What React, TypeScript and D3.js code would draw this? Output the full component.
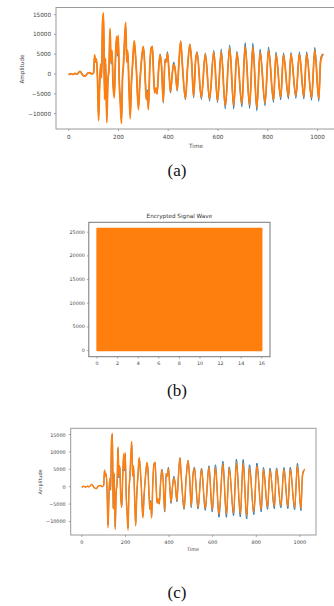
import React from "react";
import * as d3 from "d3";

// ---- Data ----
const signalTime = [
  0, 8, 16, 25, 33, 45, 57, 66, 76, 85, 93, 100,
  104, 108, 112, 116, 120, 124, 128, 132, 136, 140, 144, 148, 153, 157, 162, 166,
  170, 174, 178, 183, 187, 192, 196, 199, 203, 207, 212, 216, 220, 225, 229, 233,
  237, 242, 247, 252, 257, 263, 267, 272, 280, 286, 292, 299, 304, 308, 312, 316,
  320, 326, 331, 336, 341, 345, 350, 355, 361, 367, 373, 380, 387, 392, 397, 403,
  409, 416, 422, 428, 436, 443, 450, 456, 469, 478, 487, 494, 502, 510, 516,
  533, 549, 566, 583, 598, 613, 629, 647, 663, 676, 696, 709, 727, 740, 756,
  769, 789, 803, 823, 833, 852, 863, 883, 893, 913, 927, 945, 956, 976, 989,
  1005, 1012, 1018, 1023,
];

const originalSignal = [
  -200, 100, -100, 150, -50, 650, -300, -550, 200, 350, 0, 300,
  4600, 3200, 3500, -1500, -11000, -3500, 2000, -800, 12500, 15000, -6000, 3500, -11600, -2500, 1500, 11000,
  2500, 5500, -2000, -5500, 1800, 9000, 4500, 9300, -1500, -6500, -11800, -1500, 2000, 9000, 12000, 3500,
  5500, -2500, -10500, -2500, 2500, 8000, 5800, 1000, -8500, -2000, 3000, 6800, 4200, -2000, -6500, -4000,
  -8500, 2000, 6500, 7000, 0, -4500, -4000, -5000, 1000, 5000, 2000, -7300, 3800, 3200, 5600, 500,
  -4800, 0, 3000, 1000, -4300, 3000, 8300, 3000, -6500, 2000, 7500, 3000, -6000, 3500, 5600,
  -6400, 5300, -6800, 6000, -7200, 6300, -8800, 7300, -8800, 5700, -8300, 7900, -8700, 7800, -9300,
  6300, -8000, 6800, -7200, 5500, -6500, 5300, -6300, 5400, -6100, 5500, -6300, 5600, -6600, 6700,
  -6900, 3500, 4800, 5000,
];

const decryptedSignal = [
  -200, 100, -100, 150, -50, 650, -300, -550, 200, 350, 0, 300,
  4800, 3000, 3800, -2000, -11800, -3000, 2500, -1000, 13200, 15400, -6500, 4000, -12300, -2000, 2000, 11500,
  3000, 6000, -2500, -6000, 2000, 9500, 5000, 9800, -2000, -7000, -12500, -1000, 2500, 9500, 13000, 3000,
  6000, -3000, -11300, -2000, 3000, 8400, 6000, 1000, -9000, -2000, 3000, 7000, 4000, -2000, -6500, -4500,
  -9000, 2000, 6500, 7000, 0, -4800, -3500, -5000, 1000, 4800, 2000, -7000, 3500, 3000, 5200, 500,
  -4500, 0, 2500, 1000, -4000, 3000, 8300, 3000, -6200, 2000, 7500, 3000, -5600, 3500, 5300,
  -6000, 5000, -6300, 5600, -6700, 5600, -8000, 6500, -8000, 5300, -7600, 7000, -7900, 6800, -8500,
  5500, -7300, 6000, -6600, 5000, -5900, 4800, -5700, 5000, -5500, 5000, -5700, 5100, -6000, 6000,
  -6300, 3000, 4500, 5000,
];

const timeTicks = [0, 200, 400, 600, 800, 1000];
const amplitudeTicks = [-10000, -5000, 0, 5000, 10000, 15000];

const encryptedTime = [0, 16];
const encryptedLow = [0, 0];
const encryptedHigh = [25800, 25800];
const encryptedXTicks = [0, 2, 4, 6, 8, 10, 12, 14, 16];
const encryptedYTicks = [0, 5000, 10000, 15000, 20000, 25000];

const BLUE = "#1f77b4";
const ORANGE = "#ff7f0e";
const FONT = "DejaVu Sans, sans-serif";
const SERIF = "Liberation Serif, Times New Roman, serif";

const fmt = (v: number) => (v < 0 ? "\u2212" + Math.abs(v) : String(v));

function padDomain(lo: number, hi: number): [number, number] {
  const p = (hi - lo) * 0.05;
  return [lo - p, hi + p];
}

type SignalProps = {
  id: string;
  left: number;
  right: number;
  top: number;
  bottom: number;
  fs: number;
  lwBlue: number;
  lwOrange: number;
  yLabelEnd: number;
  xTickY: number;
  xLabel: [number, number];
  yLabel: [number, number];
};

function SignalPanel(p: SignalProps) {
  const xDom = padDomain(d3.min(signalTime)!, d3.max(signalTime)!);
  const yDom = padDomain(
    Math.min(d3.min(originalSignal)!, d3.min(decryptedSignal)!),
    Math.max(d3.max(originalSignal)!, d3.max(decryptedSignal)!)
  );
  const x = d3.scaleLinear().domain(xDom).range([p.left, p.right]);
  const y = d3.scaleLinear().domain(yDom).range([p.bottom, p.top]);
  const line = (vals: number[]) =>
    d3
      .line<number>()
      .x((_, i) => x(signalTime[i]))
      .y((d) => y(d))
      .curve(d3.curveMonotoneX)(vals) || "";
  return (
    <g>
      <defs>
        <clipPath id={p.id}>
          <rect x={p.left} y={p.top} width={p.right - p.left} height={p.bottom - p.top} />
        </clipPath>
      </defs>
      <g clipPath={`url(#${p.id})`}>
        <path d={line(originalSignal)} fill="none" stroke={BLUE} strokeWidth={p.lwBlue} strokeLinejoin="round" />
        <path d={line(decryptedSignal)} fill="none" stroke={ORANGE} strokeWidth={p.lwOrange} strokeLinejoin="round" />
      </g>
      <rect x={p.left} y={p.top} width={p.right - p.left} height={p.bottom - p.top} fill="none" stroke="#9a9a9a" strokeWidth={1} />
      {amplitudeTicks.map((t) => (
        <g key={"y" + t}>
          <line x1={p.left - 2} x2={p.left} y1={y(t)} y2={y(t)} stroke="#777" strokeWidth={0.6} />
          <text x={p.yLabelEnd} y={y(t)} fontSize={p.fs} fontFamily={FONT} fill="#444" textAnchor="end" dominantBaseline="central">
            {fmt(t)}
          </text>
        </g>
      ))}
      {timeTicks.map((t) => (
        <g key={"x" + t}>
          <line x1={x(t)} x2={x(t)} y1={p.bottom} y2={p.bottom + 2} stroke="#777" strokeWidth={0.6} />
          <text x={x(t)} y={p.xTickY} fontSize={p.fs} fontFamily={FONT} fill="#444" textAnchor="middle" dominantBaseline="central">
            {t}
          </text>
        </g>
      ))}
      <text x={p.xLabel[0]} y={p.xLabel[1]} fontSize={p.fs} fontFamily={FONT} fill="#444" textAnchor="middle" dominantBaseline="central">
        Time
      </text>
      <text
        transform={`translate(${p.yLabel[0]},${p.yLabel[1]}) rotate(-90)`}
        fontSize={p.fs}
        fontFamily={FONT}
        fill="#444"
        textAnchor="middle"
        dominantBaseline="central"
      >
        Amplitude
      </text>
    </g>
  );
}

function EncryptedPanel() {
  const left = 88.8, right = 270, top = 222.3, bottom = 356.7;
  const x = d3.scaleLinear().domain(padDomain(d3.min(encryptedTime)!, d3.max(encryptedTime)!)).range([left, right]);
  const y = d3.scaleLinear().domain(padDomain(d3.min(encryptedLow)!, d3.max(encryptedHigh)!)).range([bottom, top]);
  const area =
    d3
      .area<number>()
      .x((_, i) => x(encryptedTime[i]))
      .y0((_, i) => y(encryptedLow[i]))
      .y1((_, i) => y(encryptedHigh[i]))(encryptedTime) || "";
  const fs = 4.8;
  return (
    <g>
      <path d={area} fill={ORANGE} stroke={ORANGE} strokeWidth={1.4} strokeLinejoin="round" />
      <rect x={left} y={top} width={right - left} height={bottom - top} fill="none" stroke="#777" strokeWidth={1} />
      {encryptedYTicks.map((t) => (
        <g key={"ey" + t}>
          <line x1={left - 2} x2={left} y1={y(t)} y2={y(t)} stroke="#777" strokeWidth={0.6} />
          <text x={left - 4} y={y(t)} fontSize={fs} fontFamily={FONT} fill="#444" textAnchor="end" dominantBaseline="central">
            {t}
          </text>
        </g>
      ))}
      {encryptedXTicks.map((t) => (
        <g key={"ex" + t}>
          <line x1={x(t)} x2={x(t)} y1={bottom} y2={bottom + 2} stroke="#777" strokeWidth={0.6} />
          <text x={x(t)} y={363.7} fontSize={fs} fontFamily={FONT} fill="#444" textAnchor="middle" dominantBaseline="central">
            {t}
          </text>
        </g>
      ))}
      <text x={(left + right) / 2} y={216} fontSize={5.7} fontFamily={FONT} fill="#333" textAnchor="middle" dominantBaseline="central">
        Encrypted Signal Wave
      </text>
    </g>
  );
}

export default function App() {
  return (
    <svg width={334} height={606} style={{ position: "absolute", left: 0, top: 0, background: "#fff" }}>
      <rect width={334} height={606} fill="#fff" />
      <SignalPanel
        id="clipA"
        left={56}
        right={336}
        top={7.5}
        bottom={129}
        fs={5.7}
        lwBlue={1.2}
        lwOrange={1.8}
        yLabelEnd={51}
        xTickY={137}
        xLabel={[196, 145.5]}
        yLabel={[22, 69]}
      />
      <text x={177} y={170} fontSize={17} fontFamily={SERIF} fill="#111" textAnchor="middle" dominantBaseline="central">
        (a)
      </text>
      <EncryptedPanel />
      <text x={177} y={390} fontSize={17} fontFamily={SERIF} fill="#111" textAnchor="middle" dominantBaseline="central">
        (b)
      </text>
      <SignalPanel
        id="clipC"
        left={70.7}
        right={316}
        top={428.3}
        bottom={535}
        fs={4.9}
        lwBlue={1.0}
        lwOrange={1.5}
        yLabelEnd={65.7}
        xTickY={541.5}
        xLabel={[193, 548.5]}
        yLabel={[40, 482]}
      />
      <text x={177} y={592} fontSize={17} fontFamily={SERIF} fill="#111" textAnchor="middle" dominantBaseline="central">
        (c)
      </text>
    </svg>
  );
}
